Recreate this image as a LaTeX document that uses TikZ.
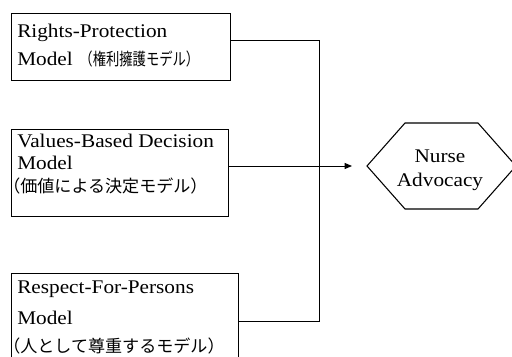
\documentclass[tikz,border=0pt]{standalone}
\usepackage{fontspec}
\setmainfont{Liberation Serif}[FakeStretch=1.1]
\newfontfamily\jp{Noto Sans CJK JP}
\newfontfamily\jpc{Noto Sans CJK JP}[FakeStretch=0.78]
\usetikzlibrary{arrows.meta}
\begin{document}
\begin{tikzpicture}[x=0.75pt,y=-0.75pt,
  boxshape/.style={draw, line width=0.8pt, anchor=north west, inner sep=0pt},
  txt/.style={anchor=base west, inner sep=0pt, font=\fontsize{14.5}{16}\selectfont},
  jptxt/.style={anchor=base west, inner sep=0pt, font=\fontsize{12.8}{16}\jp},
  link/.style={line width=0.75pt},
  hexshape/.style={draw, line width=0.8pt, line join=miter},
]
\useasboundingbox (0,0) rectangle (512,357);
\clip (0,0) rectangle (512,357);

% boxes
\node[boxshape, minimum width=164.25pt, minimum height=50.25pt] (b1) at (11,13) {};
\node[boxshape, minimum width=162.75pt, minimum height=65.25pt] (b2) at (11,129) {};
\node[boxshape, minimum width=170.25pt, minimum height=75pt] (b3) at (11,273) {};

% box texts
\node[txt] (t11) at (17,37) {Rights-Protection};
\node[txt] (t12) at (17,65) {Model\kern5pt{\fontsize{12.8}{16}\jpc （権利擁護モデル）}};

\node[txt] (t21) at (17,147) {Values-Based Decision};
\node[txt] (t22) at (17,170) {Model};
\node[jptxt] (t23) at (3,192) {（価値による決定モデル）};

\node[txt] (t31) at (17,293) {Respect-For-Persons};
\node[txt] (t32) at (17,325) {Model};
\node[jptxt] (t33) at (3,353) {（人として尊重するモデル）};

% hexagon
\node[inner sep=0pt, align=center, font=\fontsize{14.5}{18}\selectfont] (na) at (440,170) {Nurse\\Advocacy};
\coordinate (hw) at (367,166);
\draw[hexshape] (hw) -- (405,123) -- (478,123) -- (516,166) -- (478,209) -- (405,209) -- cycle;

% connectors
\coordinate (k1) at (319,40);
\coordinate (k3) at (319,321);
\coordinate (k2) at (319,166);
\draw[link] (b1.east |- k1) -- (k1) -- (k3) -- (b3.east |- k3);
\draw[link, -{Triangle[length=5.5pt,width=4.5pt]}, shorten >=11.25pt] (b2.east |- k2) -- (hw);
\end{tikzpicture}
\end{document}
